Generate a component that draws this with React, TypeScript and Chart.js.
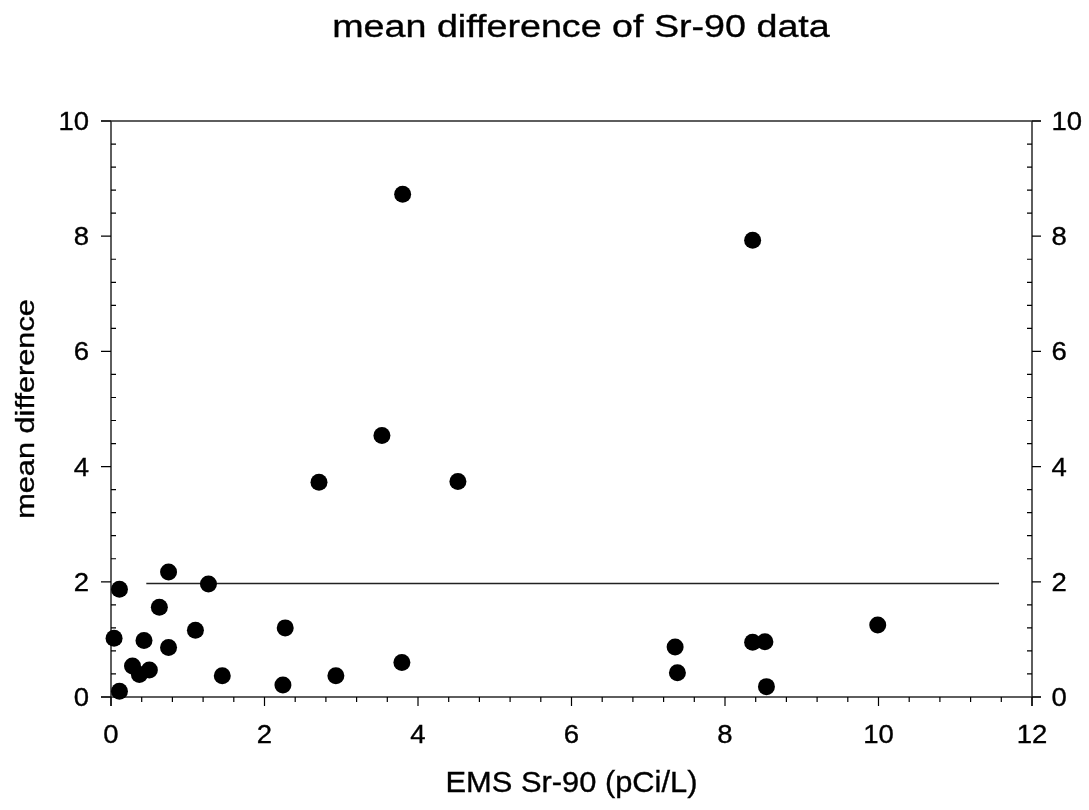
import React, { useEffect, useRef } from "react";
import { Chart, registerables } from "chart.js";

Chart.register(...registerables);

// ---- data ----
const emsSr90: number[] = [
  0.04, 0.11, 0.11, 0.28, 0.37, 0.5, 0.43, 0.63, 0.75, 0.75, 1.1, 1.27, 1.45, 2.24,
  2.27, 2.71, 2.93, 3.53, 3.79, 3.8, 4.52, 7.35, 7.38, 8.36, 8.36, 8.52, 8.54, 9.99,
];
const meanDifference: number[] = [
  1.02, 1.87, 0.1, 0.54, 0.39, 0.47, 0.98, 1.56, 2.17, 0.86, 1.16, 1.96, 0.37, 0.21,
  1.2, 3.73, 0.37, 4.54, 0.6, 8.73, 3.74, 0.87, 0.42, 7.93, 0.95, 0.96, 0.18, 1.25,
];
const meanLineX: number[] = [0.46, 11.57];
const meanLineY: number[] = [1.97, 1.97];

const xTickValues: number[] = [0, 2, 4, 6, 8, 10, 12];
const xTickLabels: string[] = ["0", "2", "4", "6", "8", "10", "12"];
const yTickValues: number[] = [0, 2, 4, 6, 8, 10];
const yTickLabels: string[] = ["0", "2", "4", "6", "8", "10"];
const minorStep = 0.4;

const chartTitle = "mean difference of Sr-90 data";
const xTitle = "EMS Sr-90 (pCi/L)";
const yTitle = "mean difference";

const FONT = "'Liberation Sans', Arial, Helvetica, sans-serif";

function fillBold(ctx: CanvasRenderingContext2D, text: string, x: number, y: number) {
  ctx.fillText(text, x, y);
  ctx.lineWidth = 0.35;
  ctx.strokeStyle = "#000";
  ctx.strokeText(text, x, y);
}

function drawFitted(
  ctx: CanvasRenderingContext2D,
  text: string,
  size: number,
  targetWidth: number
) {
  ctx.font = `${size}px ${FONT}`;
  const m = ctx.measureText(text);
  const w = (m.actualBoundingBoxLeft || 0) + (m.actualBoundingBoxRight || m.width);
  const sx = targetWidth / w;
  ctx.scale(sx, 1);
  ctx.textAlign = "center";
  ctx.textBaseline = "alphabetic";
  fillBold(ctx, text, 0, 0);
}

const framePlugin = {
  id: "framePlugin",
  beforeDatasetsDraw(chart: any) {
    const ctx: CanvasRenderingContext2D = chart.ctx;
    const xs = chart.scales.x;
    const ys = chart.scales.y;
    const { left, right, top, bottom } = chart.chartArea;
    ctx.save();
    // frame lines
    ctx.strokeStyle = "#2a2a2a";
    ctx.lineWidth = 1.5;
    ctx.beginPath();
    ctx.moveTo(left - 10, top);
    ctx.lineTo(right + 9, top);
    ctx.moveTo(left - 10, bottom);
    ctx.lineTo(right + 9, bottom);
    ctx.moveTo(left, top);
    ctx.lineTo(left, bottom + 9);
    ctx.moveTo(right, top);
    ctx.lineTo(right, bottom + 9);
    ctx.stroke();

    // ticks
    ctx.strokeStyle = "#000";
    ctx.lineWidth = 1.2;
    ctx.beginPath();
    for (let i = 0; i <= Math.round(12 / minorStep); i++) {
      const v = i * minorStep;
      const px = xs.getPixelForValue(v);
      const major = xTickValues.some((t) => Math.abs(t - v) < 1e-6);
      ctx.moveTo(px, bottom);
      ctx.lineTo(px, bottom + (major ? 9 : 5));
    }
    for (let i = 0; i <= Math.round(10 / minorStep); i++) {
      const v = i * minorStep;
      const py = ys.getPixelForValue(v);
      const major = yTickValues.some((t) => Math.abs(t - v) < 1e-6);
      if (!major) {
        ctx.moveTo(left, py);
        ctx.lineTo(left + 5, py);
        ctx.moveTo(right, py);
        ctx.lineTo(right - 5, py);
      }
    }
    yTickValues.forEach((v) => {
      const py = ys.getPixelForValue(v);
      ctx.moveTo(left - 10, py);
      ctx.lineTo(left, py);
      ctx.moveTo(right, py);
      ctx.lineTo(right + 9, py);
    });
    ctx.stroke();

    // tick labels
    ctx.fillStyle = "#000";
    const tickSize = 25;
    const tsx = 1.1;
    ctx.font = `${tickSize}px ${FONT}`;
    ctx.textBaseline = "alphabetic";
    xTickValues.forEach((v, i) => {
      const px = xs.getPixelForValue(v);
      ctx.save();
      ctx.translate(px, bottom + 46);
      ctx.scale(tsx, 1);
      ctx.textAlign = "center";
      fillBold(ctx, xTickLabels[i], 0, 0);
      ctx.restore();
    });
    yTickValues.forEach((v, i) => {
      const py = ys.getPixelForValue(v);
      ctx.save();
      ctx.translate(left - 22, py + 9);
      ctx.scale(tsx, 1);
      ctx.textAlign = "right";
      fillBold(ctx, yTickLabels[i], 0, 0);
      ctx.restore();
      ctx.save();
      ctx.translate(right + 19.5, py + 9);
      ctx.scale(tsx, 1);
      ctx.textAlign = "left";
      fillBold(ctx, yTickLabels[i], 0, 0);
      ctx.restore();
    });

    // titles
    ctx.save();
    ctx.translate(581, 37);
    drawFitted(ctx, chartTitle, 31, 496);
    ctx.restore();

    ctx.save();
    ctx.translate((left + right) / 2, 792);
    drawFitted(ctx, xTitle, 29, 248);
    ctx.restore();

    ctx.save();
    ctx.translate(33.5, 409);
    ctx.rotate(-Math.PI / 2);
    drawFitted(ctx, yTitle, 26, 218);
    ctx.restore();

    ctx.restore();
  },
};

export default function App() {
  const ref = useRef<HTMLCanvasElement | null>(null);
  useEffect(() => {
    if (!ref.current) return;
    const points = emsSr90.map((x, i) => ({ x, y: meanDifference[i] }));
    const line = meanLineX.map((x, i) => ({ x, y: meanLineY[i] }));
    const chart = new Chart(ref.current, {
      type: "scatter",
      data: {
        datasets: [
          {
            type: "line",
            data: line,
            borderColor: "#222",
            borderWidth: 1.4,
            pointRadius: 0,
            fill: false,
            order: 2,
          } as any,
          {
            data: points,
            backgroundColor: "#000",
            borderColor: "#000",
            borderWidth: 0,
            pointRadius: 8.5,
            pointHoverRadius: 8.5,
            clip: false,
            order: 1,
          } as any,
        ],
      },
      options: {
        animation: false,
        responsive: false,
        devicePixelRatio: 1,
        layout: { padding: { left: 111, right: 57, top: 121, bottom: 113 } },
        plugins: {
          legend: { display: false },
          title: { display: false },
          tooltip: { enabled: false },
        },
        events: [],
        scales: {
          x: { type: "linear", min: 0, max: 12, display: false },
          y: { type: "linear", min: 0, max: 10, display: false },
        },
      },
      plugins: [framePlugin],
    });
    return () => chart.destroy();
  }, []);
  return (
    <div style={{ position: "fixed", left: 0, top: 0, width: 1089, height: 810, background: "#fff" }}>
      <canvas ref={ref} width={1089} height={810} style={{ width: 1089, height: 810, display: "block" }} />
    </div>
  );
}
